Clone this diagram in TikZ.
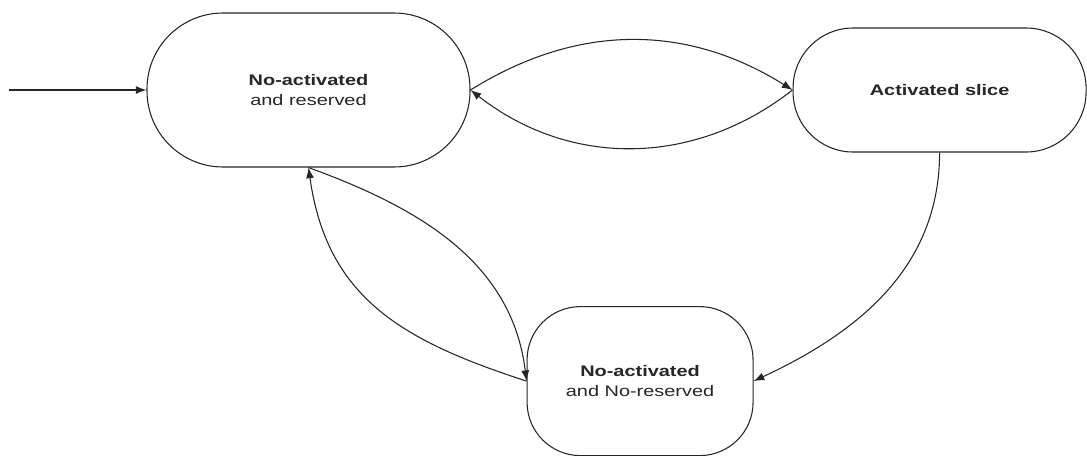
\documentclass[tikz,border=0pt]{standalone}
\usepackage{fontspec}
\setmainfont{Liberation Sans}[FakeStretch=1.3]
\usepackage{tikz}
\usetikzlibrary{arrows.meta, positioning}
\tikzset{
    slice/.style={rectangle, draw=black!85, fill=white, line width=0.8pt, inner sep=0pt, align=center, text=black!85, font=\fontsize{11.5}{15}\selectfont},
    arrow/.style={line width=0.8pt, color=black!85, -{Latex[length=8pt,width=6pt]}},
}

\begin{document}
\begin{tikzpicture}[x=0.75pt,y=0.75pt]
  \useasboundingbox (0,0) rectangle (1087,455);
  \node[slice, minimum width=242.25pt, minimum height=115.5pt, rounded corners=57pt] (nar) at (308.5,365) {\textbf{No-activated}\\and reserved};
  \node[slice, minimum width=219.75pt, minimum height=93pt, rounded corners=45pt] (act) [right=241.5pt of nar] {\textbf{Activated slice}};
  \node[slice, minimum width=169.5pt, minimum height=111.75pt, rounded corners=40pt] (nanr) [below right=103.9pt and 42pt of nar] {\textbf{No-activated}\\and No-reserved};
  \coordinate[left=102.75pt of nar] (init);

  \draw[arrow] (init) -- (nar);
  \path[arrow] (nar.east) edge[bend left=32] (act.west);
  \path[arrow] (act.west) edge[bend left=38] (nar.east);
  \path[arrow] (nar.south) edge[out=-20, in=97] (nanr.west);
  \path[arrow] (nanr.west) edge[out=162, in=-82, looseness=1.1] (nar.south);
  \path[arrow] (act.south) edge[out=-90, in=25] (nanr.east);
\end{tikzpicture}
\end{document}
